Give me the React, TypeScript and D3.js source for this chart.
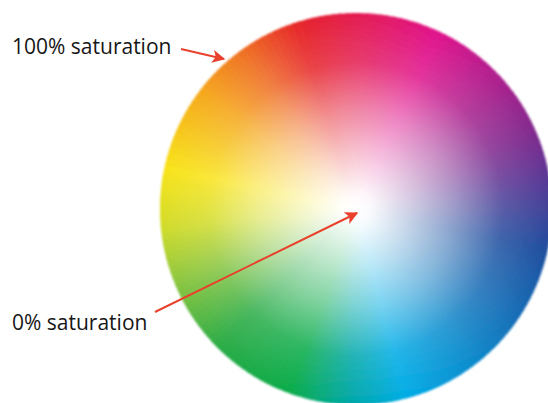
import React from 'react';
import * as d3 from 'd3';

// hue stops around the rim: angle clockwise from top (deg) and rim colour
const hueAngles = [-17, 25, 68, 102, 126, 165, 182, 200, 225, 248, 265, 282, 307, 325, 343];
const hueColors = ['#e52329', '#e0138c', '#7d2a8e', '#1e4d9e', '#1470b8', '#00ace6', '#00a8a6', '#0aab4a', '#2aab46', '#8cc63f', '#d2dc2a', '#f8e31a', '#f5a81c', '#ef6e24', '#e52329'];

// radial saturation profile: offset along radius, amount of rim colour
const satOffsets = [0, 0.08, 0.3, 0.5, 0.75, 1];
const satAmounts = [0, 0.04, 0.28, 0.52, 0.86, 1];

const labels = ['100% saturation', '0% saturation'];

export default function App() {
  const width = 548;
  const height = 403;
  const cx = 356;
  const cy = 209;
  const r = 196;

  const hue = d3.scaleLinear<string>()
    .domain(hueAngles)
    .range(hueColors)
    .interpolate(d3.interpolateRgb);

  const steps = 180;
  const wedges = d3.range(steps).map(i => {
    const a0 = -17 + (360 / steps) * i;
    const a1 = a0 + 360 / steps;
    return { a0, a1, color: hue((a0 + a1) / 2) };
  });

  const arc = d3.arc<any>()
    .innerRadius(0)
    .outerRadius(r)
    .startAngle(d => (d.a0 * Math.PI) / 180)
    .endAngle(d => ((d.a1 + 0.6) * Math.PI) / 180);

  const red = '#e8412c';

  return (
    <svg width={width} height={height} style={{ position: 'absolute', left: 0, top: 0 }}>
      <defs>
        {wedges.map((w, i) => (
          <radialGradient key={i} id={`g${i}`} gradientUnits="userSpaceOnUse" cx={0} cy={0} r={r}>
            {satOffsets.map((o, j) => (
              <stop key={j} offset={o} stopColor={d3.interpolateRgb('#ffffff', w.color)(satAmounts[j])} />
            ))}
          </radialGradient>
        ))}
        <filter id="soft" x="-10%" y="-10%" width="120%" height="120%">
          <feGaussianBlur stdDeviation="1" />
        </filter>
        <marker id="head" viewBox="0 0 10 10" refX="9" refY="5" markerWidth="13" markerHeight="13" markerUnits="userSpaceOnUse" orient="auto">
          <path d="M0,0 L10,5 L0,10 L2.5,5 Z" fill={red} />
        </marker>
      </defs>
      <rect width={width} height={height} fill="#ffffff" />
      <g transform={`translate(${cx},${cy})`} filter="url(#soft)">
        {wedges.map((w, i) => (
          <path key={i} d={arc(w) || ''} fill={`url(#g${i})`} />
        ))}
      </g>
      <g fontFamily="'Open Sans', sans-serif" fontSize={21} fill="#161616">
        <text x={12} y={54}>{labels[0]}</text>
        <text x={12} y={330}>{labels[1]}</text>
      </g>
      <line x1={181} y1={49} x2={224} y2={59} stroke={red} strokeWidth={2} markerEnd="url(#head)" />
      <line x1={155} y1={312} x2={357} y2={213} stroke={red} strokeWidth={2} markerEnd="url(#head)" />
    </svg>
  );
}
